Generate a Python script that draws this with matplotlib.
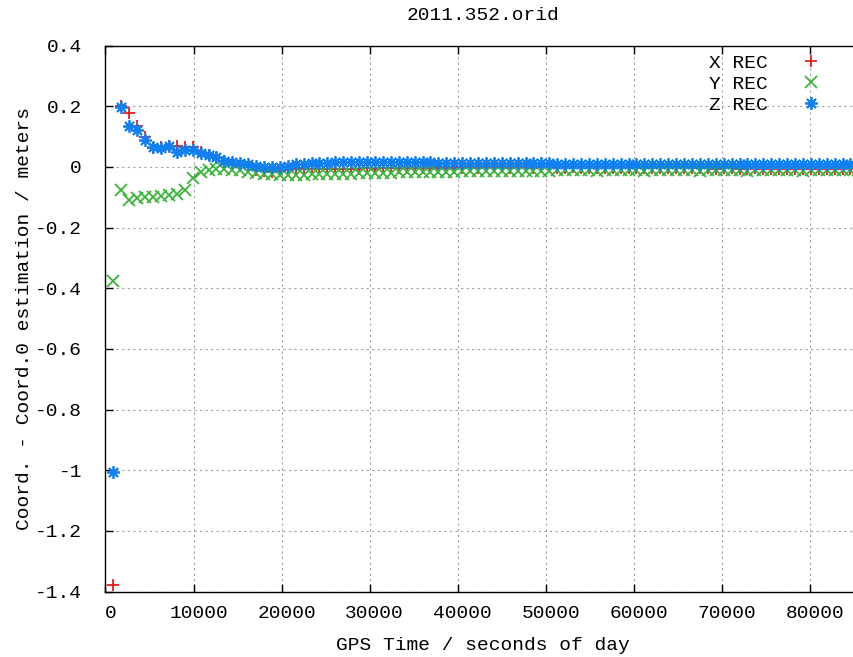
import numpy as np
import matplotlib
matplotlib.use("Agg")
import matplotlib.pyplot as plt
from matplotlib.ticker import MultipleLocator, FuncFormatter
from matplotlib.transforms import ScaledTranslation

# epochs every 15 min over the day
epoch_step = 900
times = np.arange(1, 97) * epoch_step

x_rec = [
    -1.38, 0.200, 0.177, 0.133, 0.098, 0.062, 0.065, 0.068, 0.070, 0.067, 0.067, 0.050,
    0.040, 0.030, 0.018, 0.010, 0.004, -0.002, -0.010, -0.014, -0.018, -0.014, -0.010, -0.008,
    -0.008, -0.007, -0.008, -0.007, -0.006, -0.007, -0.006, -0.006, -0.005, -0.006, -0.005, -0.005,
    -0.005, -0.004, -0.005, -0.004, -0.004, -0.003, -0.004, -0.003, -0.003, -0.002, -0.003, -0.002,
    -0.002, -0.002, -0.003, -0.002, -0.002, -0.003, -0.002, -0.002, -0.003, -0.003, -0.002, -0.003,
    -0.003, -0.004, -0.003, -0.004, -0.004, -0.003, -0.004, -0.004, -0.005, -0.004, -0.004, -0.005,
    -0.005, -0.004, -0.005, -0.005, -0.006, -0.005, -0.005, -0.006, -0.006, -0.005, -0.006, -0.006,
    -0.006, -0.007, -0.006, -0.006, -0.007, -0.007, -0.006, -0.007, -0.007, -0.007, -0.007, -0.008,
]
y_rec = [
    -0.375, -0.075, -0.108, -0.104, -0.101, -0.098, -0.095, -0.092, -0.088, -0.075, -0.036, -0.018,
    -0.010, -0.006, -0.008, -0.010, -0.012, -0.016, -0.020, -0.022, -0.024, -0.026, -0.027, -0.026,
    -0.026, -0.025, -0.024, -0.024, -0.023, -0.022, -0.022, -0.021, -0.020, -0.020, -0.019, -0.019,
    -0.018, -0.018, -0.018, -0.017, -0.017, -0.016, -0.016, -0.016, -0.015, -0.015, -0.015, -0.014,
    -0.014, -0.014, -0.014, -0.013, -0.013, -0.013, -0.013, -0.013, -0.012, -0.012, -0.012, -0.012,
    -0.012, -0.013, -0.012, -0.012, -0.011, -0.012, -0.012, -0.013, -0.012, -0.012, -0.011, -0.012,
    -0.012, -0.012, -0.013, -0.012, -0.012, -0.011, -0.012, -0.012, -0.013, -0.012, -0.012, -0.012,
    -0.011, -0.012, -0.012, -0.013, -0.012, -0.012, -0.011, -0.012, -0.012, -0.012, -0.012, -0.012,
]
z_rec = [
    -1.006, 0.197, 0.136, 0.122, 0.089, 0.065, 0.062, 0.068, 0.049, 0.056, 0.056, 0.045,
    0.040, 0.032, 0.019, 0.015, 0.012, 0.010, 0.004, 0.000, -0.001, 0.000, 0.003, 0.008,
    0.010, 0.012, 0.013, 0.014, 0.015, 0.015, 0.016, 0.016, 0.016, 0.016, 0.016, 0.016,
    0.016, 0.015, 0.015, 0.015, 0.015, 0.014, 0.014, 0.014, 0.014, 0.013, 0.013, 0.013,
    0.012, 0.012, 0.012, 0.011, 0.011, 0.011, 0.011, 0.011, 0.010, 0.010, 0.010, 0.010,
    0.010, 0.010, 0.010, 0.010, 0.009, 0.010, 0.010, 0.009, 0.009, 0.010, 0.009, 0.009,
    0.009, 0.009, 0.009, 0.009, 0.009, 0.008, 0.009, 0.009, 0.008, 0.008, 0.009, 0.008,
    0.008, 0.008, 0.008, 0.008, 0.008, 0.008, 0.008, 0.008, 0.008, 0.008, 0.008, 0.008,
]
labels = ["X REC", "Y REC", "Z REC"]
colors = ["#e02020", "#3cb43c", "#1080f0"]
markers = ["+", "x", (8, 2, 0)]
sizes = [8, 8, 9]

plt.rcParams['font.family'] = ['Liberation Mono', 'DejaVu Sans Mono']
plt.rcParams['axes.unicode_minus'] = False
fs = 14

W, H = 854, 657
fig = plt.figure(figsize=(W / 100, H / 100), dpi=100)
ax = fig.add_axes([105.5 / W, 1 - 591.5 / H, 1 - 105.5 / W, (591.5 - 45.5) / H])

for vals, lab, col, mk, sz in zip([x_rec, y_rec, z_rec], labels, colors, markers, sizes):
    ax.plot(times, vals, linestyle="none", marker=mk, ms=sz, mew=1.3,
            color=col, label=lab)

ax.set_xlim(0, 85000)
ax.set_ylim(-1.4, 0.4)
ax.xaxis.set_major_locator(MultipleLocator(10000))
ax.yaxis.set_major_locator(MultipleLocator(0.2))
ax.yaxis.set_major_formatter(FuncFormatter(lambda v, p: "%g" % round(v, 2)))
ax.grid(True, color="#a0a0a0", linestyle=(0, (2, 3)), linewidth=0.8)
ax.set_axisbelow(True)

ax.spines['right'].set_visible(False)
for s in ['left', 'bottom', 'top']:
    ax.spines[s].set_linewidth(1.0)
ax.tick_params(axis='x', direction='in', length=6, width=1, top=True,
               labelsize=fs, pad=10)
ax.tick_params(axis='y', direction='in', length=6, width=1, right=False,
               labelsize=fs, pad=17)
shift = ScaledTranslation(5 / 100, 0, fig.dpi_scale_trans)
for lbl in ax.get_xticklabels():
    lbl.set_transform(lbl.get_transform() + shift)

fig.text(483 / W, 1 - 15 / H, "2011.352.orid", ha="center", va="center", fontsize=fs)
fig.text(483 / W, 1 - 645 / H, "GPS Time / seconds of day", ha="center", va="center", fontsize=fs)
fig.text(25 / W, 1 - 318.5 / H, "Coord. - Coord.0 estimation / meters",
         ha="center", va="center", rotation=90, fontsize=fs)

ax.legend(loc="upper right", bbox_to_anchor=(830 / W, 1 - 54 / H),
          bbox_transform=fig.transFigure, frameon=False, markerfirst=False,
          fontsize=fs, handlelength=2.0, handletextpad=1.2, labelspacing=0.18,
          borderpad=0, borderaxespad=0)

fig.savefig("out.png", dpi=100)
